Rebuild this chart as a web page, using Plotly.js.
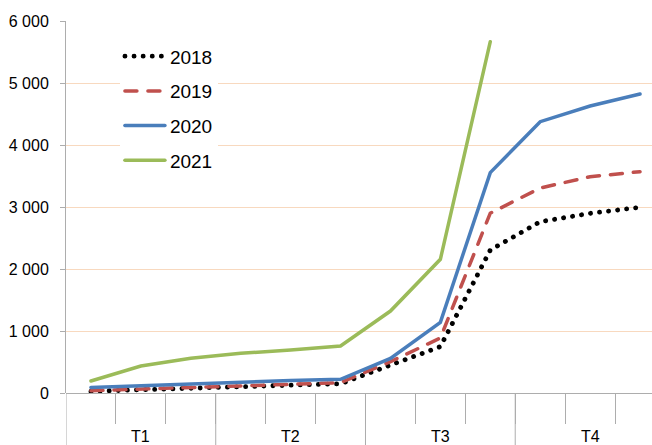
<!DOCTYPE html>
<html>
<head>
<meta charset="utf-8">
<script src="https://cdn.plot.ly/plotly-3.0.1.min.js"></script>
<style>
html,body{margin:0;padding:0;background:#fff;}
#chart{width:652px;height:445px;}
path.js-line{stroke-linecap:round;}
</style>
</head>
<body>
<div id="chart"></div>
<script>
// Data
const months = [0,1,2,3,4,5,6,7,8,9,10,11];
const quarters = ['T1','T2','T3','T4'];
const quarterCenters = [1,4,7,10];
const series2018 = [27, 48, 75, 92, 129, 150, 450, 747, 2306, 2763, 2898, 2995];
const series2019 = [37, 60, 80, 113, 140, 167, 505, 887, 2900, 3306, 3489, 3570];
const series2020 = [90, 118, 145, 183, 200, 220, 559, 1140, 3554, 4376, 4629, 4823];
const series2021 = [194, 435, 560, 640, 694, 758, 1322, 2156, 5666];
const yTicks = [0,1000,2000,3000,4000,5000,6000];

const FONT = 'Liberation Sans, Arial, sans-serif';

const traces = [
  {x: months, y: series2018, name: '2018', mode: 'lines', legendgroup:'a',
   line: {color: '#000000', width: 4.8, dash: '0.1px,9px'}},
  {x: months, y: series2019, name: '2019', mode: 'lines', legendgroup:'b',
   line: {color: '#C0504D', width: 3.5, dash: '12px,11px'}},
  {x: months, y: series2020, name: '2020', mode: 'lines', legendgroup:'c',
   line: {color: '#4A7EBB', width: 3.5}},
  {x: months.slice(0, series2021.length), y: series2021, name: '2021', mode: 'lines', legendgroup:'d',
   line: {color: '#9BBB59', width: 3.5}}
];

const gridColor = '#F8D9BF';
const axisColor = '#ADADAD';

const shapes = [-0.5, 2.5, 5.5, 8.5].map(v => ({
  type: 'line', xref: 'x', yref: 'paper', x0: v, x1: v, y0: 0, y1: -0.15,
  line: {color: axisColor, width: 1}
}));

const annotations = quarters.map((q, i) => ({
  x: quarterCenters[i], xref: 'x', y: -0.118, yref: 'paper',
  text: q, showarrow: false, xanchor: 'center', yanchor: 'middle',
  font: {family: FONT, size: 16, color: '#000'}
}));

const layout = {
  width: 652, height: 445,
  margin: {l: 66, r: 0, t: 21, b: 52, pad: 0},
  paper_bgcolor: '#fff', plot_bgcolor: '#fff',
  separators: ', ',
  font: {family: FONT, size: 16, color: '#000'},
  showlegend: true,
  legend: {
    x: 0.092, y: 0.956, xanchor: 'left', yanchor: 'top',
    bgcolor: '#ffffff', borderwidth: 0,
    font: {family: FONT, size: 19, color: '#000'},
    traceorder: 'grouped', tracegroupgap: 7,
    itemwidth: 40
  },
  xaxis: {
    type: 'linear', range: [-0.5, 11.24], fixedrange: true,
    showgrid: false, zeroline: false,
    showline: false,
    tickmode: 'array', tickvals: [0.5,1.5,2.5,3.5,4.5,5.5,6.5,7.5,8.5,9.5,10.5],
    ticktext: ['','','','','','','','','','',''],
    ticks: 'outside', ticklen: 30, tickcolor: axisColor, tickwidth: 1,
    showticklabels: false
  },
  yaxis: {
    range: [0, 6000], fixedrange: true,
    tickmode: 'array', tickvals: yTicks, tickformat: ',d',
    showgrid: true, gridcolor: gridColor, gridwidth: 1,
    zeroline: true, zerolinecolor: axisColor, zerolinewidth: 1,
    showline: true, linecolor: axisColor, linewidth: 1,
    ticks: 'outside', ticklen: 5, tickcolor: axisColor,
    ticklabelstandoff: 8,
    tickfont: {family: FONT, size: 16, color: '#000'}
  },
  shapes: shapes,
  annotations: annotations
};

Plotly.newPlot('chart', traces, layout, {displayModeBar: false, staticPlot: true});
</script>
</body>
</html>
